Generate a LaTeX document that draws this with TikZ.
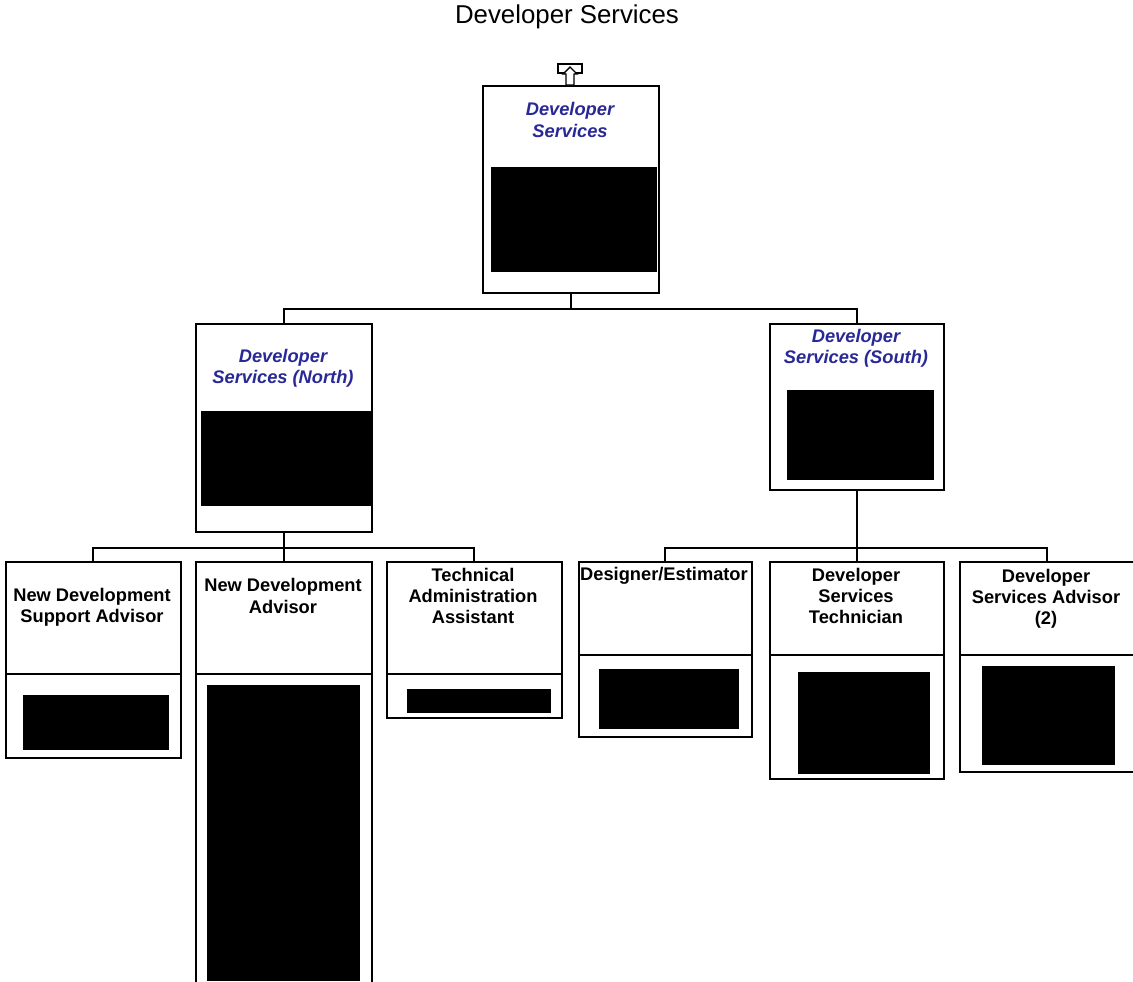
\documentclass[tikz,border=0pt]{standalone}
\usepackage{fontspec}
\setmainfont{Liberation Sans}
\usepackage{tikz}
\usepackage{xcolor}
\definecolor{unitblue}{RGB}{40,40,150}

\begin{document}
\begin{tikzpicture}[x=0.02cm,y=-0.02cm,line width=1pt,
        box/.style={draw,anchor=north west,inner sep=0pt},
        post/.style={font=\fontsize{10.4}{12}\selectfont\bfseries,align=center,inner sep=0pt},
        unit/.style={post,text=unitblue,font=\fontsize{10.4}{12}\selectfont\bfseries\itshape}]
        %\draw[gray] (0,0) grid[step=50] (1133,981);
        \useasboundingbox (0,0) rectangle (1133,981);

        \node (title) at (567,17) {\fontsize{14.7}{17}\selectfont Developer Services};

        % top unit
        \node[box,minimum width=3.52cm,minimum height=4.14cm] (DS) at (482,85) {};
        \draw[line width=0.8pt] (558,64) rectangle (582,73);
        \filldraw[fill=white,line width=0.8pt] (570,67) -- (577,74) -- (574,74) -- (574,85) -- (566,85) -- (566,74) -- (563,74) -- cycle;
        \fill (491,167) rectangle (657,272);
        \node[unit] (DSt) at (570,120) {Developer\\Services};

        % north and south
        \node[box,minimum width=3.52cm,minimum height=4.16cm] (DSN) at (195,323) {};
        \fill (201,411) rectangle (371,506);
        \node[unit] (DSNt) at (283,368) {Developer\\Services (North)};

        \node[box,minimum width=3.48cm,minimum height=3.32cm] (DSS) at (769,323) {};
        \fill (787,390) rectangle (934,480);
        \node[unit] (DSSt) at (856,348) {Developer\\Services (South)};

        \draw (DS.south) -- ++(0,15) -| (DSN.north);
        \draw (DS.south) -- ++(0,15) -| (DSS.north);

        % posts under north
        \node[box,minimum width=3.50cm,minimum height=3.92cm] (NDSA) at (5,561) {};
        \draw (NDSA.west |- 0,674) -- (NDSA.east |- 0,674);
        \fill (23,695) rectangle (169,750);
        \node[post] (NDSAt) at (92,607) {New Development\\Support Advisor};

        \node[box,minimum width=3.52cm,minimum height=8.60cm] (NDA) at (195,561) {};
        \draw (NDA.west |- 0,674) -- (NDA.east |- 0,674);
        \fill (207,685) rectangle (360,981);
        \node[post] (NDAt) at (283,596) {New Development\\Advisor};

        \node[box,minimum width=3.50cm,minimum height=3.12cm] (TAA) at (386,561) {};
        \draw (TAA.west |- 0,674) -- (TAA.east |- 0,674);
        \fill (407,689) rectangle (551,713);
        \node[post] (TAAt) at (473,596) {Technical\\Administration\\Assistant};

        \draw (DSN.south) -- ++(0,15) -| (NDSA.north);
        \draw (DSN.south) -- (NDA.north);
        \draw (DSN.south) -- ++(0,15) -| (TAA.north);

        % posts under south
        \node[box,minimum width=3.46cm,minimum height=3.50cm] (DE) at (578,561) {};
        \draw (DE.west |- 0,655) -- (DE.east |- 0,655);
        \fill (599,669) rectangle (739,729);
        \node[post] (DEt) at (664,576) {Designer/Estimator};

        \node[box,minimum width=3.48cm,minimum height=4.34cm] (DST) at (769,561) {};
        \draw (DST.west |- 0,655) -- (DST.east |- 0,655);
        \fill (798,672) rectangle (930,774);
        \node[post] (DSTt) at (856,596) {Developer\\Services\\Technician};

        \node[box,minimum width=3.48cm,minimum height=4.20cm] (DSA) at (959,561) {};
        \draw (DSA.west |- 0,655) -- (DSA.east |- 0,655);
        \fill (982,666) rectangle (1115,765);
        \node[post] (DSAt) at (1046,599) {Developer\\Services Advisor\\(2)};

        \draw (DSS.south) -- ++(0,57) -| (DE.north);
        \draw (DSS.south) -- (DST.north);
        \draw (DSS.south) -- ++(0,57) -| (DSA.north);
    \end{tikzpicture}
\end{document}
